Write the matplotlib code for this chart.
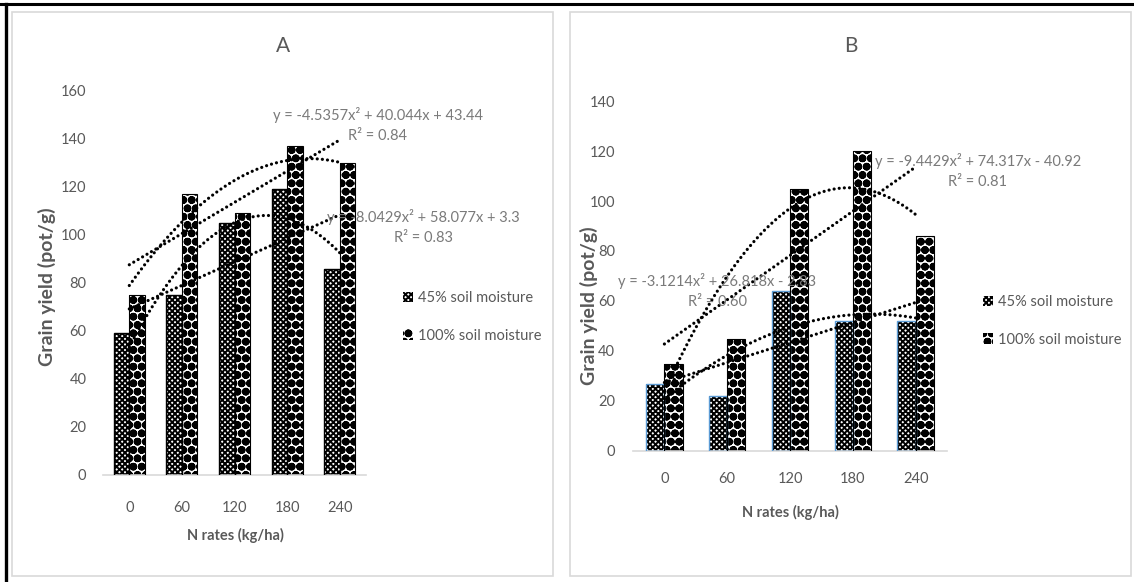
import numpy as np
import matplotlib
matplotlib.use("Agg")
import matplotlib.pyplot as plt
from matplotlib.patches import Rectangle, Patch
from matplotlib.lines import Line2D

# ---------------- data ----------------
categories = ["0", "60", "120", "180", "240"]
series_names = ["45% soil moisture", "100% soil moisture"]

yield_A_45 = [59, 75, 105, 119, 86]
yield_A_100 = [75, 117, 109, 137, 130]
yield_B_45 = [27, 22, 64, 52, 52]
yield_B_100 = [35, 45, 105, 120, 86]

# quadratic trendline coefficients (a, b, c for a*x^2 + b*x + c) as printed
poly_A_45 = [-8.0429, 58.077, 3.3]
poly_A_100 = [-4.5357, 40.044, 43.44]
poly_B_45 = [-3.1214, 26.818, -2.83]
poly_B_100 = [-9.4429, 74.317, -40.92]

eq_A_100 = "y = -4.5357x² + 40.044x + 43.44\nR² = 0.84"
eq_A_45 = "y = -8.0429x² + 58.077x + 3.3\nR² = 0.83"
eq_B_100 = "y = -9.4429x² + 74.317x - 40.92\nR² = 0.81"
eq_B_45 = "y = -3.1214x² + 26.818x - 2.83\nR² = 0.60"

yticks_A = [0, 20, 40, 60, 80, 100, 120, 140, 160]
yticks_B = [0, 20, 40, 60, 80, 100, 120, 140]

# ---------------- style ----------------
plt.rcParams['font.family'] = ['Lato', 'DejaVu Sans']
plt.rcParams['hatch.linewidth'] = 1.4
GREY = '#595959'
EQ = '#7a7a7a'
H45 = 'xxxxxx'
H100 = 'OO..'

W, H = 1134, 582
fig = plt.figure(figsize=(W / 100, H / 100), dpi=100)


def rect(l, t, r, b):
    return [l / W, 1 - b / H, (r - l) / W, (b - t) / H]


# outer frame lines & panel borders
fig.add_artist(Line2D([0, 1], [1 - 4 / H, 1 - 4 / H], color='black', lw=2.2, transform=fig.transFigure))
fig.add_artist(Line2D([6 / W, 6 / W], [0, 1 - 4 / H], color='black', lw=2.4, transform=fig.transFigure))
for (l, t, r, b) in [(12, 12, 553, 576), (570, 12, 1131, 576)]:
    fig.add_artist(Rectangle((l / W, 1 - b / H), (r - l) / W, (b - t) / H, transform=fig.transFigure,
                             fill=False, edgecolor='#d9d9d9', lw=1.2))


def panel(axrect, d45, d100, p45, p100, ylim, yticks, edge45, bw, title, tpos,
          ylab_pos, xlab_pos, eq100, eq100_pos, eq45, eq45_pos, leg_pos, xpad, ypad):
    ax = fig.add_axes(rect(*axrect))
    x = np.arange(len(categories))
    ax.bar(x - bw / 2, d45, bw, facecolor='white', edgecolor='black', hatch=H45, lw=0.0, zorder=2)
    ax.bar(x - bw / 2, d45, bw, facecolor='none', edgecolor=edge45, lw=1.0, zorder=3)
    ax.bar(x + bw / 2, d100, bw, facecolor='white', edgecolor='black', hatch=H100, lw=0.0, zorder=2)
    ax.bar(x + bw / 2, d100, bw, facecolor='none', edgecolor='black', lw=0.8, zorder=3)

    # trendlines (Excel style: categories numbered 1..5)
    xs = np.linspace(1, len(categories), 200)
    dot = (0, (0.01, 1.6))
    for d, p in [(d45, p45), (d100, p100)]:
        ax.plot(xs - 1, np.polyval(p, xs), color='black', lw=2.3, ls=dot,
                dash_capstyle='round', zorder=4)
        lin = np.polyfit(np.arange(1, len(d) + 1), d, 1)
        ax.plot(xs - 1, np.polyval(lin, xs), color='black', lw=2.3, ls=dot,
                dash_capstyle='round', zorder=4)

    ax.set_xlim(-0.5, len(categories) - 0.5)
    ax.set_ylim(*ylim)
    ax.set_xticks(x)
    ax.set_xticklabels(categories)
    ax.set_yticks(yticks)
    ax.tick_params(length=0, labelsize=10.5, colors=GREY)
    ax.tick_params(axis='x', pad=xpad)
    ax.tick_params(axis='y', pad=ypad)
    for s in ['top', 'right', 'left']:
        ax.spines[s].set_visible(False)
    ax.spines['bottom'].set_color('#d9d9d9')
    ax.spines['bottom'].set_linewidth(1.2)
    ax.patch.set_alpha(0)

    fig.text(tpos[0] / W, 1 - tpos[1] / H, title, fontsize=15, color=GREY, ha='center', va='center')
    fig.text(ylab_pos[0] / W, 1 - ylab_pos[1] / H, "Grain yield (pot/g)", rotation=90, fontsize=14,
             fontweight='bold', color=GREY, ha='center', va='center')
    fig.text(xlab_pos[0] / W, 1 - xlab_pos[1] / H, "N rates (kg/ha)", fontsize=10.5,
             fontweight='bold', color=GREY, ha='center', va='center')
    fig.text(eq100_pos[0] / W, 1 - eq100_pos[1] / H, eq100, fontsize=10.5, color=EQ,
             ha='center', va='center', linespacing=1.5, zorder=5)
    fig.text(eq45_pos[0] / W, 1 - eq45_pos[1] / H, eq45, fontsize=10.5, color=EQ,
             ha='center', va='center', linespacing=1.5, zorder=5)

    handles = [Patch(facecolor='white', edgecolor='black', hatch=H45, lw=0),
               Patch(facecolor='white', edgecolor='black', hatch=H100, lw=0)]
    fig.legend(handles, series_names, loc='center left',
               bbox_to_anchor=(leg_pos[0] / W, 1 - leg_pos[1] / H),
               frameon=False, fontsize=10.5, handlelength=0.7, handleheight=0.7,
               handletextpad=0.3, labelspacing=1.6, labelcolor=GREY)
    return ax


panel((103, 91, 366, 475), yield_A_45, yield_A_100, poly_A_45, poly_A_100, (0, 160), yticks_A,
      'black', 0.296, "A", (283, 46), (47, 287), (235, 535),
      eq_A_100, (378, 125), eq_A_45, (423, 227), (390, 317), 19, 12)

panel((633, 101, 947, 451), yield_B_45, yield_B_100, poly_B_45, poly_B_100, (0, 140), yticks_B,
      '#5b9bd5', 0.29, "B", (851, 46), (589, 306), (790, 512),
      eq_B_100, (978, 171), eq_B_45, (717, 291), (970, 321), 15, 13)

fig.savefig("out.png", dpi=100)
